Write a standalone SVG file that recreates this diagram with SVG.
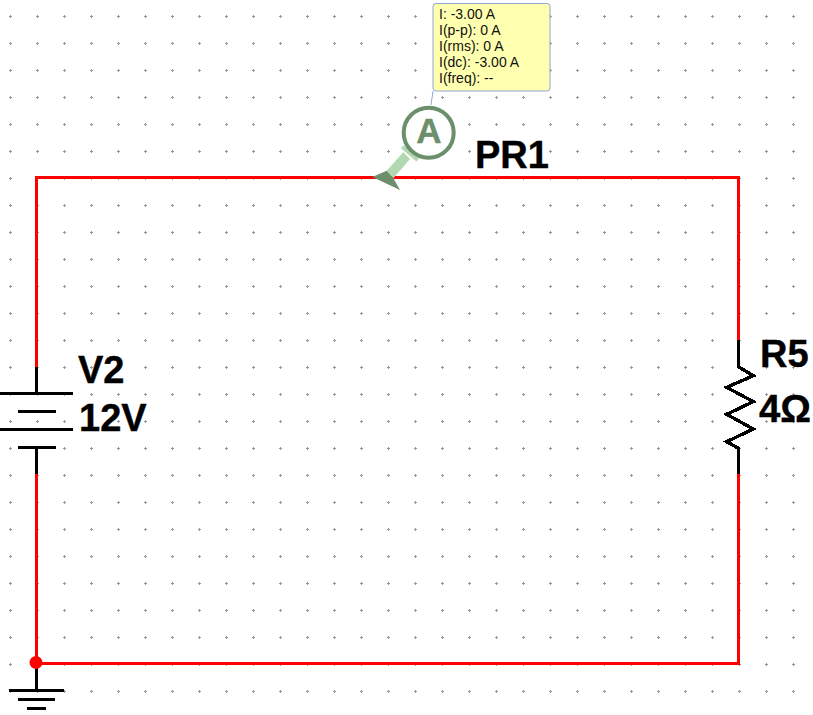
<svg xmlns="http://www.w3.org/2000/svg" width="813" height="715" viewBox="0 0 813 715">
<style>
.wire{fill:none;stroke:#f00;stroke-width:3;shape-rendering:crispEdges}
.blk{fill:none;stroke:#000;stroke-width:3;shape-rendering:crispEdges}
.zig{fill:none;stroke:#000;stroke-width:3.4;shape-rendering:crispEdges}
.lbl{font-family:"Liberation Sans",Arial,sans-serif;font-weight:700;font-size:38px;fill:#000;stroke:#000;stroke-width:.4}
.tip{font-family:"Liberation Sans",Arial,sans-serif;font-size:14px;fill:#111}
</style>
<defs>
<pattern id="grid" x="0" y="6" width="27" height="27" patternUnits="userSpaceOnUse">
<rect x="9" y="10" width="3" height="1" fill="#999"/>
<rect x="10" y="9" width="1" height="3" fill="#999"/>
</pattern>
</defs>
<rect width="813" height="715" fill="#fff"/>
<rect id="dots" width="813" height="715" fill="url(#grid)"/>
<g id="connectors">
<path class="wire" d="M36.500 367V177.500H738.500V340M738.500 474V663.500H36.500M36.500 474V663.500"/>
</g>
<g id="V2">
<path class="blk" d="M36.500 367V393M36.500 447V474"/>
<path class="blk" d="M0 393.500H73M17.500 411.500H55.500M0 429.500H73M17.500 447.500H55.500"/>
<text class="lbl" x="78" y="383">V2</text>
<text class="lbl" x="79" y="431">12V</text>
</g>
<g id="R5">
<path class="zig" d="M738.500 340V366.700L753.300 375.700L726.700 387.300L753.300 401.700L726.700 414.300L753.300 429L726.700 441.700L738.500 448.300V474"/>
<text class="lbl" x="760" y="367">R5</text>
<text class="lbl" x="759" y="422" textLength="52" lengthAdjust="spacingAndGlyphs">4Ω</text>
</g>
<g id="GND">
<path class="blk" d="M36.500 665V690"/>
<path class="blk" d="M8.500 690.500H64M18 699.500H55M27 708.500H46"/>
</g>
<g id="junction"><circle cx="36" cy="662.500" r="6.500" fill="#f00"/></g>
<g id="PR1">
<path d="M433 91L431 105" fill="none" stroke="#8fa6d6" stroke-width="1"/>
<rect x="433" y="3.500" width="117" height="87.500" rx="3" fill="#ffffb0" stroke="#8fa6d6"/>
<text class="tip" x="439" y="19">I: -3.00 A</text>
<text class="tip" x="439" y="35">I(p-p): 0 A</text>
<text class="tip" x="439" y="51">I(rms): 0 A</text>
<text class="tip" x="439" y="67">I(dc): -3.00 A</text>
<text class="tip" x="439" y="83">I(freq): --</text>
<path d="M403.300 152.300L410 159L393.300 178.300L386.700 170.700Z" fill="#b1d8b0"/>
<path d="M402.300 146.700L417.700 160" fill="none" stroke="#b1d8b0" stroke-width="4"/>
<path d="M372.300 177L386.700 170.700L393.300 178.300L400 190Z" fill="#6b8e6b"/>
<circle cx="428.700" cy="132.700" r="25" fill="#fff" stroke="#6b8e6b" stroke-width="4"/>
<text x="428.800" y="143" text-anchor="middle" font-family="'Liberation Sans',Arial,sans-serif" font-weight="700" font-size="35" fill="#6b8e6b" stroke="#6b8e6b" stroke-width=".4">A</text>
<text class="lbl" x="475" y="168">PR1</text>
</g>
</svg>
